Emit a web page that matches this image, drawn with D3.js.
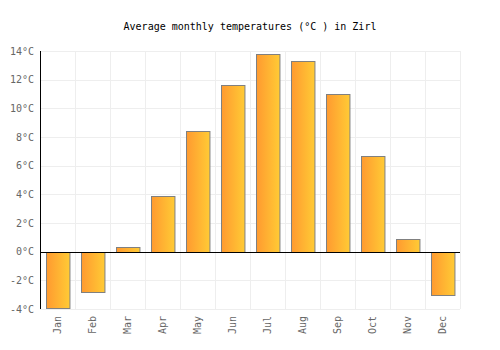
<!DOCTYPE html>
<html>
<head>
<meta charset="utf-8">
<script src="https://cdn.jsdelivr.net/npm/d3@7"></script>
<style>
  body { margin: 0; background: #fff; }
  text { font-family: "DejaVu Sans Mono", monospace; }
</style>
</head>
<body>
<div id="chart"></div>
<script>
// data
let months = ["Jan", "Feb", "Mar", "Apr", "May", "Jun", "Jul", "Aug", "Sep", "Oct", "Nov", "Dec"];
let temps = [-3.9, -2.8, 0.3, 3.9, 8.4, 11.6, 13.8, 13.3, 11.0, 6.7, 0.9, -3.0];
let yTicks = [-4, -2, 0, 2, 4, 6, 8, 10, 12, 14];

let margin = {top: 51, right: 40, bottom: 41, left: 40};
let width = 500 - margin.left - margin.right;
let height = 350 - margin.top - margin.bottom;

let svg = d3.select("#chart").append("svg")
    .attr("width", 500)
    .attr("height", 350);

let defs = svg.append("defs");
let grad = defs.append("linearGradient")
    .attr("id", "barGrad")
    .attr("x1", "0%").attr("x2", "100%")
    .attr("y1", "0%").attr("y2", "0%");
grad.append("stop").attr("offset", "0%").attr("stop-color", "#ff9a30");
grad.append("stop").attr("offset", "100%").attr("stop-color", "#ffcb35");

// title
svg.append("text")
    .attr("x", 250)
    .attr("y", 30)
    .attr("text-anchor", "middle")
    .style("font-size", "10px")
    .attr("fill", "#000")
    .text("Average monthly temperatures (°C ) in Zirl");

let g = svg.append("g")
    .attr("transform", "translate(" + margin.left + "," + margin.top + ")");

let x = d3.scaleBand()
    .domain(months)
    .range([0, width])
    .paddingInner(0.33)
    .paddingOuter(0.165);

let xGrid = d3.scaleBand().domain(months).range([0, width]);

let y = d3.scaleLinear()
    .domain([-4, 14])
    .range([height, 0]);

// grid lines
g.selectAll(".hgrid")
    .data(yTicks)
    .enter().append("line")
    .attr("x1", 0).attr("x2", width)
    .attr("y1", d => Math.round(y(d)) + 0.5)
    .attr("y2", d => Math.round(y(d)) + 0.5)
    .attr("stroke", "#eeeeee");

g.selectAll(".vgrid")
    .data(months)
    .enter().append("line")
    .attr("x1", d => Math.round(xGrid(d) + xGrid.bandwidth()) + 0.5)
    .attr("x2", d => Math.round(xGrid(d) + xGrid.bandwidth()) + 0.5)
    .attr("y1", 0).attr("y2", height)
    .attr("stroke", "#eeeeee");

// bars
g.selectAll(".bar")
    .data(temps)
    .enter().append("rect")
    .attr("class", "bar")
    .attr("x", (d, i) => Math.round(x(months[i])) + 0.5)
    .attr("y", d => Math.round(y(Math.max(0, d))) + 0.5)
    .attr("width", x.bandwidth())
    .attr("height", d => Math.abs(Math.round(y(d)) - Math.round(y(0))))
    .attr("fill", "url(#barGrad)")
    .attr("stroke", "#808080")
    .attr("stroke-width", 1);

// zero line
g.append("line")
    .attr("x1", 0).attr("x2", width)
    .attr("y1", Math.round(y(0)) + 0.5)
    .attr("y2", Math.round(y(0)) + 0.5)
    .attr("stroke", "#000");

// y axis line
g.append("line")
    .attr("x1", 0.5).attr("x2", 0.5)
    .attr("y1", 0).attr("y2", height)
    .attr("stroke", "#000");

// y tick labels
g.selectAll(".ylab")
    .data(yTicks)
    .enter().append("text")
    .attr("x", -6)
    .attr("y", d => y(d))
    .attr("dy", "0.35em")
    .attr("text-anchor", "end")
    .style("font-size", "10px")
    .attr("fill", "#666")
    .text(d => d + "°C");

// x tick labels
g.selectAll(".xlab")
    .data(months)
    .enter().append("text")
    .attr("transform", d => "translate(" + (xGrid(d) + xGrid.bandwidth() / 2) + "," + (height + 7) + ") rotate(-90)")
    .attr("dy", "0.35em")
    .attr("text-anchor", "end")
    .style("font-size", "10px")
    .attr("fill", "#666")
    .text(d => d);
</script>
</body>
</html>
